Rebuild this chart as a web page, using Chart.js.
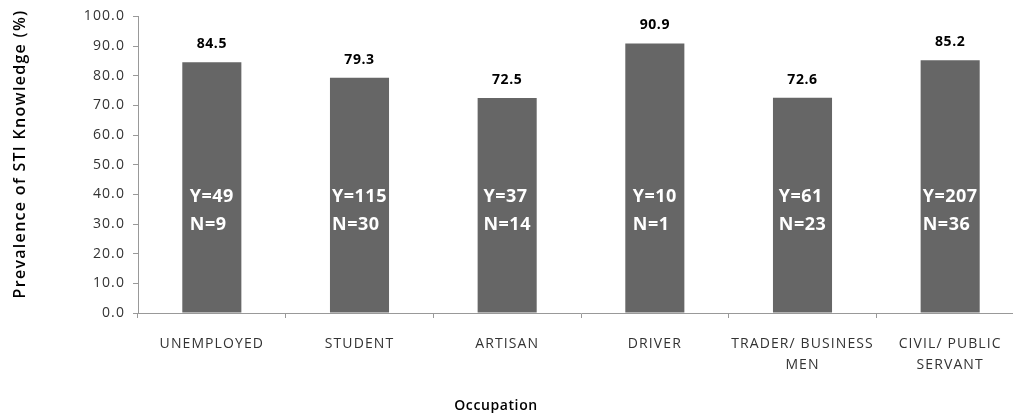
<!DOCTYPE html>
<html>
<head>
<meta charset="utf-8">
<script src="https://cdn.jsdelivr.net/npm/chart.js@4/dist/chart.umd.min.js"></script>
<style>
    html, body { margin: 0; padding: 0; overflow: hidden; background: #fff; }
    #wrap { width: 1030px; height: 417px; position: relative; }
</style>
</head>
<body>
<div id="wrap"><canvas id="chart"></canvas></div>
<script>
const occupations = [
    ['UNEMPLOYED'],
    ['STUDENT'],
    ['ARTISAN'],
    ['DRIVER'],
    ['TRADER/ BUSINESS', 'MEN'],
    ['CIVIL/ PUBLIC', 'SERVANT'],
];
const prevalence = [84.5, 79.3, 72.5, 90.9, 72.6, 85.2];
const yesCounts = [49, 115, 37, 10, 61, 207];
const noCounts = [9, 30, 14, 1, 23, 36];
const yTicks = [0, 10, 20, 30, 40, 50, 60, 70, 80, 90, 100];

const FONT = '"Open Sans", "Noto Sans", sans-serif';

// the source picture has wide letter spacing on every text
const spacingPlugin = {
    id: 'letterSpacing',
    beforeUpdate: (chart) => { chart.ctx.letterSpacing = '1.1px'; },
    beforeDraw: (chart) => { chart.ctx.letterSpacing = '1.1px'; },
};

// value on top, Y=/N= counts inside each bar, plus the two axis titles
const labelsPlugin = {
    id: 'barLabels',
    afterDatasetsDraw: (chart) => {
        const { ctx } = chart;
        const yScale = chart.scales.y;
        const meta = chart.getDatasetMeta(0);
        ctx.save();
        meta.data.forEach((bar, i) => {
            ctx.fillStyle = '#000';
            ctx.letterSpacing = '0.6px';
            ctx.font = `bold 14px ${FONT}`;
            ctx.textAlign = 'center';
            ctx.textBaseline = 'middle';
            ctx.fillText(prevalence[i].toFixed(1), bar.x, bar.y - 18);

            ctx.fillStyle = '#fff';
            ctx.letterSpacing = '0.5px';
            ctx.font = `bold 18px ${FONT}`;
            const yText = 'Y=' + yesCounts[i];
            const nText = 'N=' + noCounts[i];
            const w = Math.max(ctx.measureText(yText).width, ctx.measureText(nText).width);
            const left = bar.x - w / 2;
            ctx.textAlign = 'left';
            const yPos = yScale.getPixelForValue(39);
            ctx.fillText(yText, left, yPos);
            ctx.fillText(nText, left, yPos + 28);
        });

        ctx.fillStyle = '#000';
        ctx.textAlign = 'center';
        ctx.textBaseline = 'middle';
        ctx.letterSpacing = '0.6px';
        ctx.font = `600 14px ${FONT}`;
        ctx.fillText('Occupation', 496, 406);

        ctx.translate(20, 154);
        ctx.rotate(-Math.PI / 2);
        ctx.letterSpacing = '1.3px';
        ctx.font = `600 16px ${FONT}`;
        ctx.fillText('Prevalence of STI Knowledge (%)', 0, 0);
        ctx.restore();
    }
};

new Chart(document.getElementById('chart'), {
    type: 'bar',
    data: {
        labels: occupations,
        datasets: [{
            data: prevalence,
            backgroundColor: '#666666',
            categoryPercentage: 1.0,
            barPercentage: 0.4,
        }],
    },
    options: {
        responsive: true,
        maintainAspectRatio: false,
        animation: false,
        layout: { padding: { top: 13, right: 6, left: 0, bottom: 0 } },
        plugins: {
            legend: { display: false },
            tooltip: { enabled: false },
        },
        scales: {
            x: {
                grid: { drawOnChartArea: false, drawTicks: true, tickLength: 5, color: '#999' },
                border: { color: '#999' },
                ticks: {
                    color: '#333',
                    font: { family: FONT, size: 14, lineHeight: 1.5 },
                    padding: 16,
                    maxRotation: 0,
                    autoSkip: false,
                },
                afterFit: (scale) => { scale.height = 104; },
            },
            y: {
                min: 0,
                max: 100,
                afterBuildTicks: (scale) => { scale.ticks = yTicks.map(v => ({ value: v })); },
                grid: { drawOnChartArea: false, drawTicks: true, tickLength: 5, color: '#999' },
                border: { color: '#999' },
                ticks: {
                    color: '#333',
                    font: { family: FONT, size: 14 },
                    padding: 8,
                    callback: (value) => Number(value).toFixed(1),
                },
                afterFit: (scale) => { scale.width = 138; },
            },
        },
    },
    plugins: [spacingPlugin, labelsPlugin],
});
</script>
</body>
</html>
